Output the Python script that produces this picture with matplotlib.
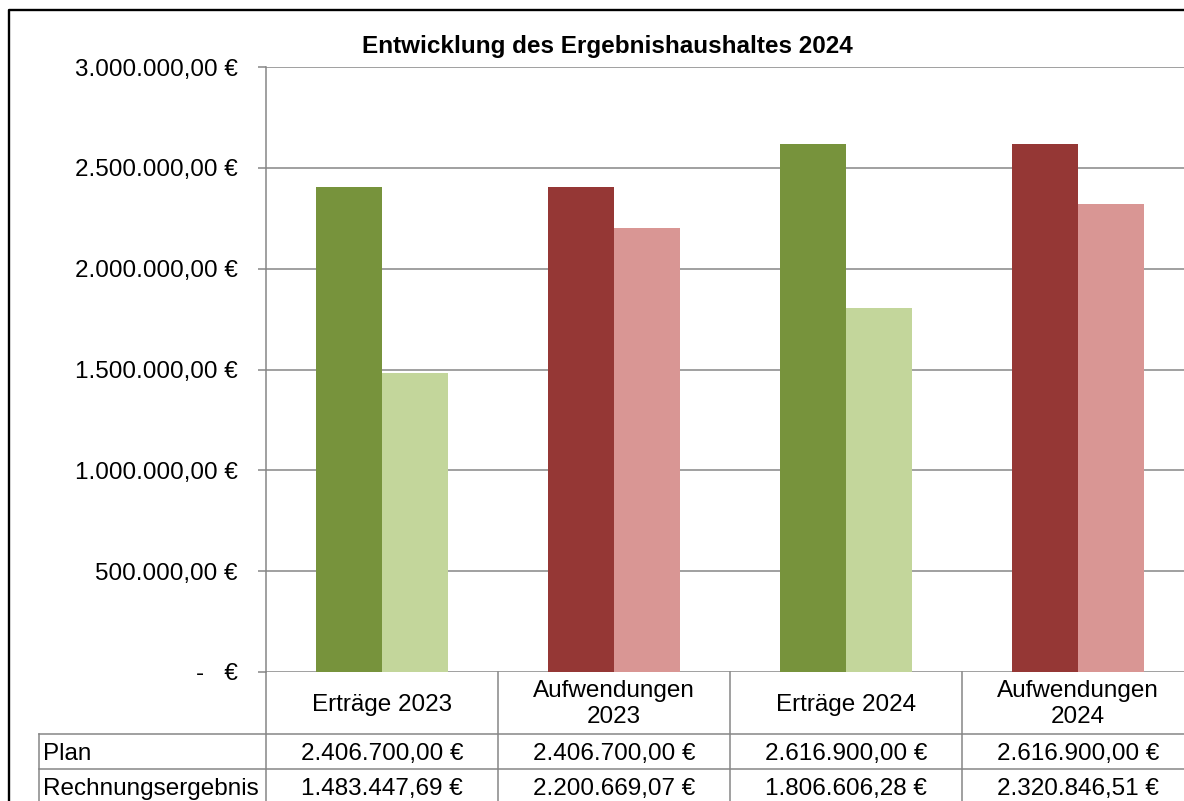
import matplotlib
matplotlib.use("Agg")
import matplotlib.pyplot as plt
from matplotlib.lines import Line2D
import matplotlib.transforms as mtransforms
from matplotlib.ticker import FuncFormatter, MultipleLocator

# ---------------- data ----------------
categories = ["Erträge 2023", "Aufwendungen\n2023", "Erträge 2024", "Aufwendungen\n2024"]
series_names = ["Plan", "Rechnungsergebnis"]
plan = [2406700.00, 2406700.00, 2616900.00, 2616900.00]
ergebnis = [1483447.69, 2200669.07, 1806606.28, 2320846.51]
title = "Entwicklung des Ergebnishaushaltes 2024"
plan_colors = ["#77933C", "#953735", "#77933C", "#953735"]
erg_colors = ["#C3D69B", "#D99694", "#C3D69B", "#D99694"]
y_max = 3000000
y_step = 500000

plt.rcParams['font.family'] = ['Liberation Sans', 'DejaVu Sans']

W, H = 1184, 801
FS = 17.5
GRID = "#868686"


def eur(v):
    if v == 0:
        return "-   €"
    s = f"{v:,.2f}".replace(",", "X").replace(".", ",").replace("X", ".")
    return s + " €"


def fx(px):
    return px / W


def fy(py):
    return 1 - py / H


fig = plt.figure(figsize=(W / 100, H / 100), dpi=100)
fig.patch.set_facecolor("white")

ax_left, ax_right, ax_top, ax_bottom = 266, 1194, 67, 672
ax = fig.add_axes([fx(ax_left), fy(ax_bottom), (ax_right - ax_left) / W, (ax_bottom - ax_top) / H])

n = len(categories)
x = list(range(n))
bw = 66 / 232
ax.bar([i - bw / 2 for i in x], plan, width=bw, color=plan_colors, zorder=3, linewidth=0)
ax.bar([i + bw / 2 for i in x], ergebnis, width=bw, color=erg_colors, zorder=3, linewidth=0)

ax.set_xlim(-0.5, n - 0.5)
ax.set_ylim(0, y_max)
ax.yaxis.set_major_locator(MultipleLocator(y_step))
ax.yaxis.set_major_formatter(FuncFormatter(lambda v, p: eur(v)))
ax.yaxis.grid(True, color=GRID, linewidth=1.1, zorder=0)
ax.set_axisbelow(True)
for s in ["top", "right", "bottom"]:
    ax.spines[s].set_visible(False)
ax.spines["left"].set_color(GRID)
ax.spines["left"].set_linewidth(1.1)
ax.set_xticks([])
ax.tick_params(axis="y", direction="out", length=5.8, width=1.1, color=GRID,
               pad=14.4, labelsize=FS, labelcolor="black")

# title
fig.text(fx(607), fy(53), title, ha="center", va="baseline", fontsize=FS, fontweight="bold")

# ---------------- data table ----------------
blend = mtransforms.blended_transform_factory(ax.transData, fig.transFigure)
tab_left = 39
row_lines = [734, 769]
bottom_edge = 830

for ry in row_lines:
    fig.add_artist(Line2D([fx(tab_left), fx(ax_right)], [fy(ry), fy(ry)], color=GRID, lw=1.1))
for i in range(n + 1):
    xv = i - 0.5
    fig.add_artist(Line2D([xv, xv], [fy(ax_bottom), fy(bottom_edge)], color=GRID, lw=1.1,
                          transform=blend))
fig.add_artist(Line2D([fx(tab_left), fx(tab_left)], [fy(row_lines[0]), fy(bottom_edge)],
                      color=GRID, lw=1.1))

for i, cat in enumerate(categories):
    lines = cat.split("\n")
    if len(lines) == 1:
        fig.text(i, fy(711), lines[0], transform=blend, ha="center", va="baseline", fontsize=FS)
    else:
        for ln, by in zip(lines, [697, 723]):
            fig.text(i, fy(by), ln, transform=blend, ha="center", va="baseline", fontsize=FS)

row_baselines = [760, 795]
for name, vals, by in zip(series_names, [plan, ergebnis], row_baselines):
    fig.text(fx(43), fy(by), name, ha="left", va="baseline", fontsize=FS)
    for i, v in enumerate(vals):
        fig.text(i, fy(by), eur(v), transform=blend, ha="center", va="baseline", fontsize=FS)

# outer black frame (chart area border, cropped at right/bottom)
fig.add_artist(Line2D([fx(9), fx(9), fx(1250)], [fy(850), fy(10), fy(10)], color="black", lw=1.7))

fig.savefig("out.png", dpi=100)
